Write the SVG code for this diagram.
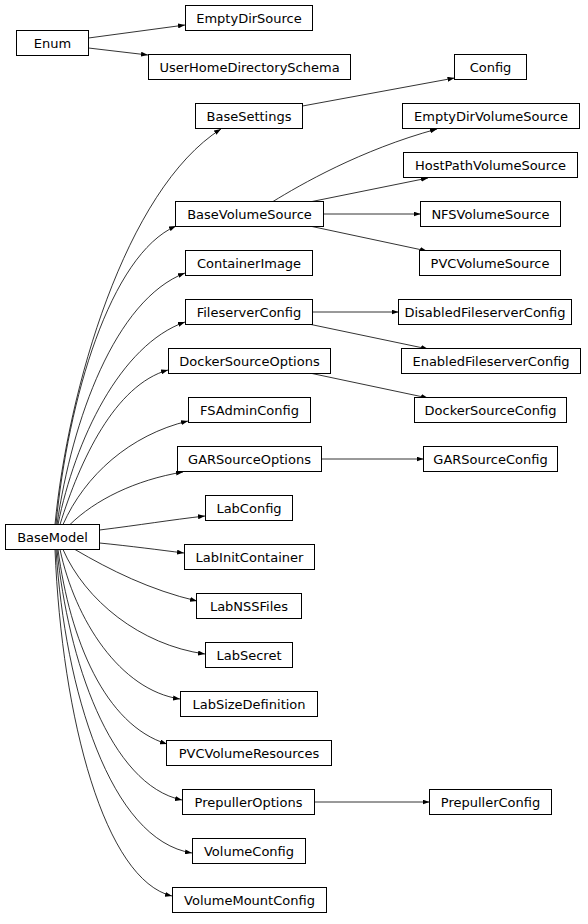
<svg xmlns="http://www.w3.org/2000/svg" width="588" height="924" viewBox="0 0 588 924">
<defs>
<style>
.n rect{fill:#fff;stroke:#000;stroke-width:1}
.n text{font-family:"DejaVu Sans",sans-serif;font-size:13px;fill:#000;text-anchor:middle}
.e path{fill:none;stroke:#000;stroke-width:0.8;marker-end:url(#ah)}
</style>
<marker id="ah" markerUnits="userSpaceOnUse" viewBox="0 0 7 5" refX="7" refY="2.5" markerWidth="7" markerHeight="5" orient="auto"><path d="M0,0 L7,2.5 L0,5 z" fill="#000"/></marker>
</defs>
<rect width="588" height="924" fill="#fff"/>
<g id="edges" class="e">
<path d="M88.5,38 L185,25"/>
<path d="M88.5,48 L148,55"/>
<path d="M302.5,106 L454.5,78"/>
<path d="M273,201.5 C300,185 360,150 437,129"/>
<path d="M312,201.5 L428,178"/>
<path d="M323.5,214 L420.5,214"/>
<path d="M312,226.5 L427,251"/>
<path d="M312.5,312 L398.5,312"/>
<path d="M311,324.5 L428,349"/>
<path d="M312,373.5 L428,398"/>
<path d="M321.5,459 L423.5,459"/>
<path d="M314.5,802 L429.5,802"/>
<path d="M55,524.5 C68,390 125,190 221,129"/>
<path d="M56,524.5 C68,400 110,255 176,226"/>
<path d="M57,524.5 C72,420 115,300 185,273"/>
<path d="M58,524.5 C75,440 120,345 185,322"/>
<path d="M60,524.5 C80,460 115,385 168,370"/>
<path d="M63,524.5 C85,475 130,435 188,421"/>
<path d="M70,524.5 C95,500 135,480 183,472"/>
<path d="M99.5,530 C140,525 170,520 205,516"/>
<path d="M99.5,543 C130,546 160,550 184,553"/>
<path d="M75,549.5 C110,570 150,590 197,601"/>
<path d="M63,549.5 C85,600 140,645 205,654"/>
<path d="M60,549.5 C75,620 120,690 180,699"/>
<path d="M58,549.5 C70,640 105,725 167,744"/>
<path d="M57,549.5 C68,660 110,785 182,800"/>
<path d="M56,549.5 C65,690 110,840 192,853"/>
<path d="M55,549.5 C62,720 105,880 172,896"/>
</g>
<g id="Enum" class="n"><rect x="16.5" y="30.5" width="72" height="25"/><text x="52.5" y="47.7">Enum</text></g>
<g id="EmptyDirSource" class="n"><rect x="185.5" y="5.5" width="127" height="25"/><text x="249" y="22.7">EmptyDirSource</text></g>
<g id="UserHomeDirectorySchema" class="n"><rect x="148.5" y="54.5" width="202" height="25"/><text x="249.5" y="71.7">UserHomeDirectorySchema</text></g>
<g id="Config" class="n"><rect x="454.5" y="54.5" width="72" height="25"/><text x="490.5" y="71.7">Config</text></g>
<g id="BaseSettings" class="n"><rect x="195.5" y="103.5" width="107" height="25"/><text x="249" y="120.7">BaseSettings</text></g>
<g id="EmptyDirVolumeSource" class="n"><rect x="402.5" y="103.5" width="177" height="25"/><text x="491" y="120.7">EmptyDirVolumeSource</text></g>
<g id="HostPathVolumeSource" class="n"><rect x="403.5" y="152.5" width="174" height="25"/><text x="490.5" y="169.7">HostPathVolumeSource</text></g>
<g id="BaseVolumeSource" class="n"><rect x="175.5" y="201.5" width="148" height="25"/><text x="249.5" y="218.7">BaseVolumeSource</text></g>
<g id="NFSVolumeSource" class="n"><rect x="420.5" y="201.5" width="140" height="25"/><text x="490.5" y="218.7">NFSVolumeSource</text></g>
<g id="ContainerImage" class="n"><rect x="185.5" y="250.5" width="127" height="25"/><text x="249" y="267.7">ContainerImage</text></g>
<g id="PVCVolumeSource" class="n"><rect x="419.5" y="250.5" width="141" height="25"/><text x="490" y="267.7">PVCVolumeSource</text></g>
<g id="FileserverConfig" class="n"><rect x="185.5" y="299.5" width="127" height="25"/><text x="249" y="316.7">FileserverConfig</text></g>
<g id="DisabledFileserverConfig" class="n"><rect x="398.5" y="299.5" width="173" height="25"/><text x="485" y="316.7">DisabledFileserverConfig</text></g>
<g id="DockerSourceOptions" class="n"><rect x="168.5" y="348.5" width="162" height="25"/><text x="249.5" y="365.7">DockerSourceOptions</text></g>
<g id="EnabledFileserverConfig" class="n"><rect x="401.5" y="348.5" width="179" height="25"/><text x="491" y="365.7">EnabledFileserverConfig</text></g>
<g id="FSAdminConfig" class="n"><rect x="188.5" y="397.5" width="122" height="25"/><text x="249.5" y="414.7">FSAdminConfig</text></g>
<g id="DockerSourceConfig" class="n"><rect x="414.5" y="397.5" width="152" height="25"/><text x="490.5" y="414.7">DockerSourceConfig</text></g>
<g id="GARSourceOptions" class="n"><rect x="177.5" y="446.5" width="144" height="25"/><text x="249.5" y="463.7">GARSourceOptions</text></g>
<g id="GARSourceConfig" class="n"><rect x="423.5" y="446.5" width="134" height="25"/><text x="490.5" y="463.7">GARSourceConfig</text></g>
<g id="LabConfig" class="n"><rect x="205.5" y="495.5" width="87" height="25"/><text x="249" y="512.7">LabConfig</text></g>
<g id="BaseModel" class="n"><rect x="5.5" y="524.5" width="94" height="25"/><text x="52.5" y="541.7">BaseModel</text></g>
<g id="LabInitContainer" class="n"><rect x="184.5" y="544.5" width="130" height="25"/><text x="249.5" y="561.7">LabInitContainer</text></g>
<g id="LabNSSFiles" class="n"><rect x="196.5" y="593.5" width="105" height="25"/><text x="249" y="610.7">LabNSSFiles</text></g>
<g id="LabSecret" class="n"><rect x="205.5" y="642.5" width="87" height="25"/><text x="249" y="659.7">LabSecret</text></g>
<g id="LabSizeDefinition" class="n"><rect x="180.5" y="691.5" width="137" height="25"/><text x="249" y="708.7">LabSizeDefinition</text></g>
<g id="PVCVolumeResources" class="n"><rect x="166.5" y="740.5" width="165" height="25"/><text x="249" y="757.7">PVCVolumeResources</text></g>
<g id="PrepullerOptions" class="n"><rect x="182.5" y="789.5" width="132" height="25"/><text x="248.5" y="806.7">PrepullerOptions</text></g>
<g id="PrepullerConfig" class="n"><rect x="429.5" y="789.5" width="122" height="25"/><text x="490.5" y="806.7">PrepullerConfig</text></g>
<g id="VolumeConfig" class="n"><rect x="192.5" y="838.5" width="113" height="25"/><text x="249" y="855.7">VolumeConfig</text></g>
<g id="VolumeMountConfig" class="n"><rect x="172.5" y="887.5" width="154" height="25"/><text x="249.5" y="904.7">VolumeMountConfig</text></g>
</svg>
